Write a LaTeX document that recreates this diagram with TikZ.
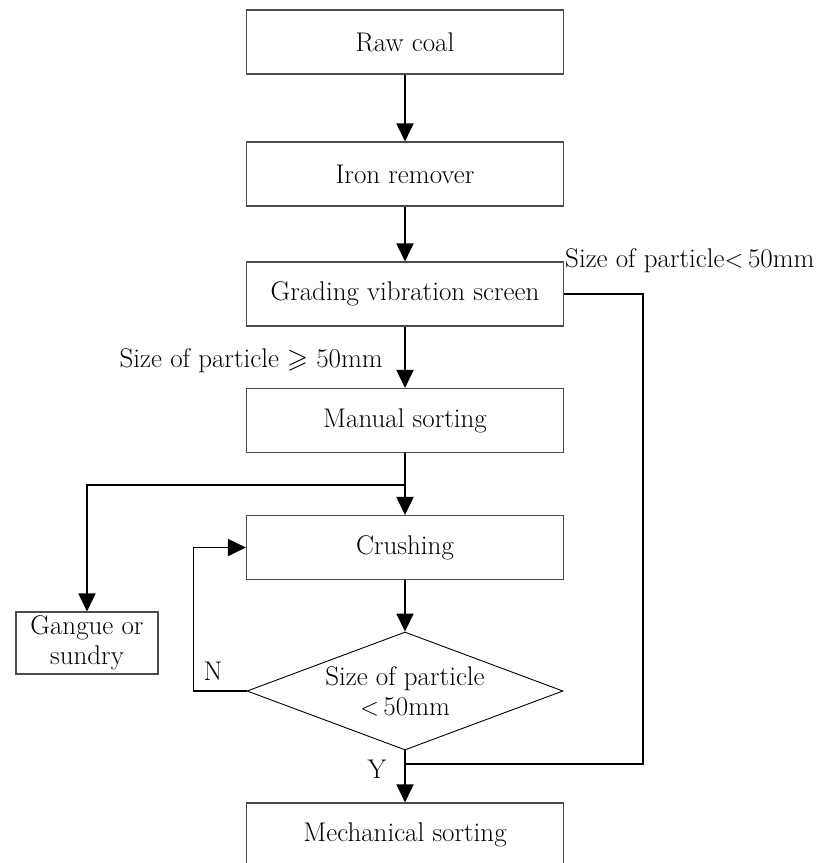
\documentclass[tikz,border=0pt]{standalone}
\usepackage{amssymb}
\usetikzlibrary{arrows.meta,shapes.geometric,positioning}

\begin{document}
\begin{tikzpicture}[x=1pt,y=-1pt,
stage/.style={rectangle,draw=black!70,line width=1.1pt,minimum width=317pt,minimum height=64pt,inner sep=0pt},
test/.style={diamond,draw,line width=0.9pt,aspect=2.68,minimum width=316pt,minimum height=118pt,inner sep=0pt,align=center},
flow/.style={line width=1.8pt,-{Triangle[length=18pt,width=17pt]}},
pipe/.style={line width=1.8pt},
every node/.append style={font=\fontsize{27}{30}\selectfont}]
\useasboundingbox (0,0) rectangle (819,863);

\node[stage] (raw) at (405,42) {Raw coal};
\node[stage] (iron) at (405,174) {Iron remover};
\node[stage] (grade) at (405,294) {Grading vibration screen};
\node[stage] (manual) at (405,420.5) {Manual sorting};
\node[stage] (crush) at (405,547.5) {Crushing};
\node[test] (size) at (405,691) {Size of particle\\$<$\,50mm};
\node[stage] (mech) at (405,835) {Mechanical sorting};
\node[rectangle,draw=black!70,line width=1.1pt,minimum width=142pt,minimum height=62pt,inner sep=0pt,align=center] (gangue) at (87,643) {Gangue or\\sundry};

% labels
\node[anchor=west,inner sep=0pt] (small) at (565,261) {Size of particle$<$\,50mm};
\node[anchor=east,inner sep=0pt] (large) at (383,361) {Size of particle $\geqslant$ 50mm};
\node (no) at (213,671) {N};
\node (yes) at (377,769) {Y};

\coordinate (split) at (405,485);
\coordinate (join) at (405,764);

\draw[flow] (raw) -- (iron);
\draw[flow] (iron) -- (grade);
\draw[flow] (grade) -- (manual);
\draw[flow] (manual) -- (crush);
\draw[flow] (crush) -- (size);
\draw[flow] (size) -- (mech);
\draw[flow] (split) -| (gangue.north);
\draw[flow] (size.west) -- ++(-53,0) |- (crush.west);
\draw[pipe] (grade.east) -- ++(79,0) |- (join);

\end{tikzpicture}
\end{document}
